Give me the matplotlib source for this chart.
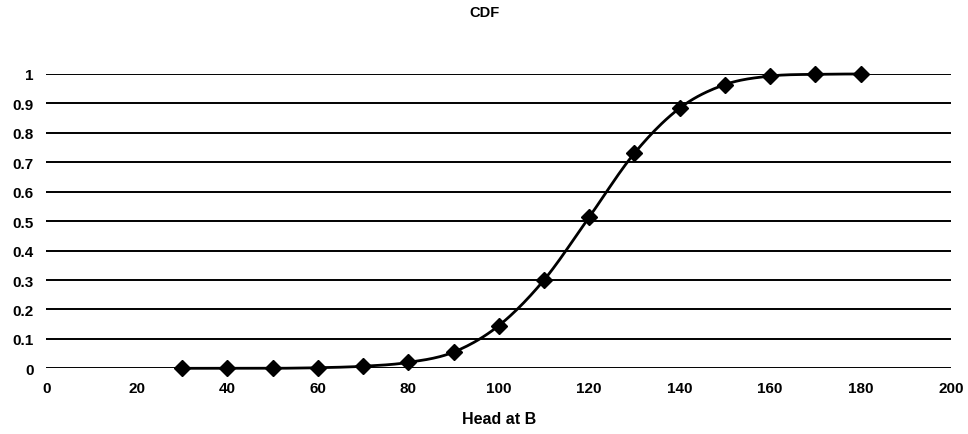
import numpy as np
import matplotlib
matplotlib.use("Agg")
import matplotlib.pyplot as plt

# Cumulative probability of head at B
head = [30, 40, 50, 60, 70, 80, 90, 100, 110, 120, 130, 140, 150, 160, 170, 180]
cdf = [0.0, 0.0, 0.0, 0.002, 0.007, 0.02, 0.055, 0.145, 0.30, 0.514,
       0.731, 0.884, 0.964, 0.993, 0.999, 1.0]
x_ticks = [0, 20, 40, 60, 80, 100, 120, 140, 160, 180, 200]
y_ticks = [0, 0.1, 0.2, 0.3, 0.4, 0.5, 0.6, 0.7, 0.8, 0.9, 1]
y_labels = ["0", "0.1", "0.2", "0.3", "0.4", "0.5", "0.6", "0.7", "0.8", "0.9", "1"]


def smooth_curve(xs, ys, n=20):
    """Catmull-Rom style smoothed line through the points (spreadsheet-like)."""
    xs = np.asarray(xs, float)
    ys = np.asarray(ys, float)
    px = np.concatenate([[2 * xs[0] - xs[1]], xs, [2 * xs[-1] - xs[-2]]])
    py = np.concatenate([[2 * ys[0] - ys[1]], ys, [2 * ys[-1] - ys[-2]]])
    outx, outy = [], []
    t = np.linspace(0, 1, n, endpoint=False)
    for i in range(1, len(px) - 2):
        p0, p1, p2, p3 = [np.array([px[j], py[j]]) for j in (i - 1, i, i + 1, i + 2)]
        for tt in t:
            pt = 0.5 * ((2 * p1) + (-p0 + p2) * tt
                        + (2 * p0 - 5 * p1 + 4 * p2 - p3) * tt ** 2
                        + (-p0 + 3 * p1 - 3 * p2 + p3) * tt ** 3)
            outx.append(pt[0])
            outy.append(pt[1])
    outx.append(xs[-1])
    outy.append(ys[-1])
    return np.array(outx), np.array(outy)


plt.rcParams['font.family'] = ['Liberation Sans', 'DejaVu Sans']

fig = plt.figure(figsize=(9.68, 4.35), dpi=100)
ax = fig.add_axes([0.048, 0.151, 0.9345, 0.6766])

for yv in y_ticks:
    ax.axhline(yv, color="black", lw=1.4, zorder=1)

sx, sy = smooth_curve(head, cdf)
ax.plot(sx, sy, color="black", lw=2.0, zorder=3, clip_on=False)
ax.plot(head, cdf, linestyle="none", marker="D", markersize=8.5,
        color="black", zorder=4, clip_on=False)

ax.set_xlim(0, 200)
ax.set_ylim(0, 1)
ax.set_xticks(x_ticks)
ax.set_xticklabels([str(v) for v in x_ticks], fontweight="bold", fontsize=11)
ax.set_yticks(y_ticks)
ax.set_yticklabels(y_labels, fontweight="bold", fontsize=11)
ax.tick_params(length=0)
ax.tick_params(axis="y", pad=9)
ax.tick_params(axis="x", pad=9)
for s in ax.spines.values():
    s.set_visible(False)

ax.set_xlabel("Head at B", fontweight="bold", fontsize=11.5, labelpad=12)
fig.text(0.5, 0.970, "CDF", ha="center", va="center", fontweight="bold", fontsize=10.5)

fig.savefig("out.png", dpi=100)
